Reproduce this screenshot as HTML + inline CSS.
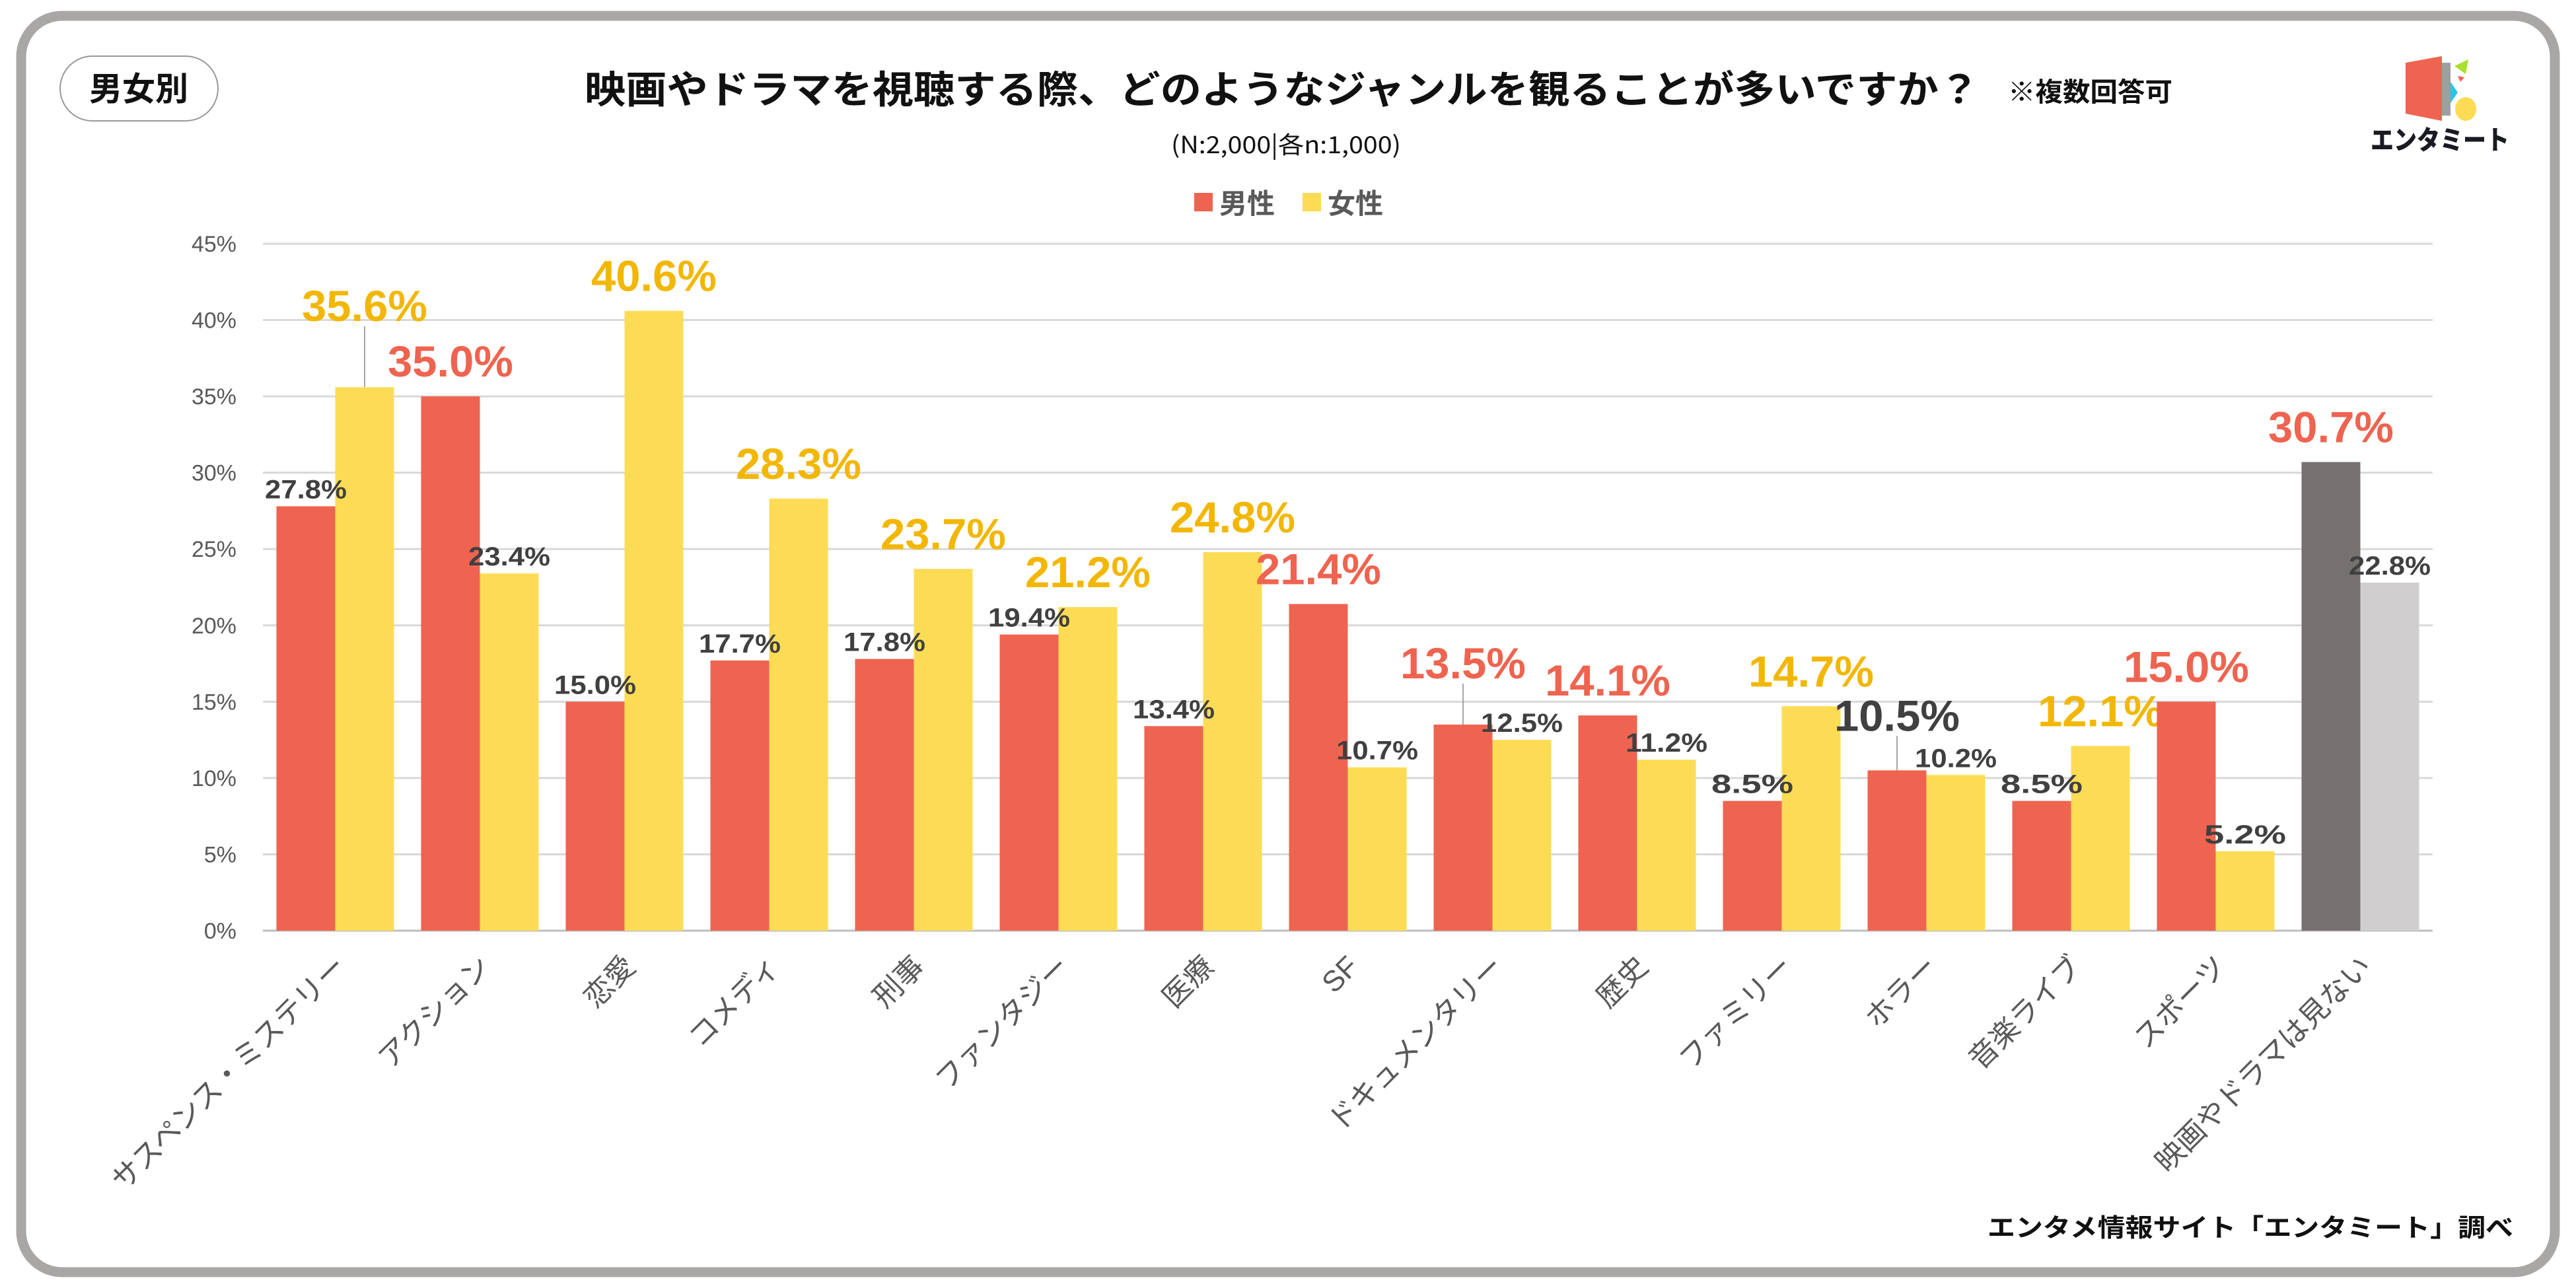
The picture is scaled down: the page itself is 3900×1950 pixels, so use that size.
<!DOCTYPE html>
<html><head><meta charset="utf-8"><style>
html,body{margin:0;padding:0;background:#fff;}
svg{display:block;}
text{font-family:"Liberation Sans","Noto Sans CJK JP",sans-serif;}
</style></head><body>
<svg id="chart" width="3900" height="1950" viewBox="0 0 3900 1950" xmlns="http://www.w3.org/2000/svg">
<rect x="32" y="24" width="3836" height="1902" rx="62" fill="#fff" stroke="#A9A6A6" stroke-width="15"/>
<rect x="91" y="85" width="239" height="98" rx="49" fill="#fff" stroke="#999" stroke-width="2"/>
<text x="210" y="152" font-size="50" font-weight="bold" text-anchor="middle" fill="#111" style="font-family:'Noto Sans CJK JP',sans-serif">男女別</text>
<text x="885" y="156" font-size="58" font-weight="bold" fill="#111" textLength="2112" lengthAdjust="spacingAndGlyphs" style="font-family:'Noto Sans CJK JP',sans-serif">映画やドラマを視聴する際、どのようなジャンルを観ることが多いですか？</text>
<text x="3040" y="153" font-size="40" font-weight="bold" fill="#111" textLength="249" lengthAdjust="spacingAndGlyphs" style="font-family:'Noto Sans CJK JP',sans-serif">※複数回答可</text>
<text x="1947" y="232" font-size="36" fill="#111" text-anchor="middle" textLength="348" lengthAdjust="spacingAndGlyphs" style="font-family:'Noto Sans CJK JP',sans-serif">(N:2,000|各n:1,000)</text>
<g>
<rect x="1808" y="292" width="28" height="28" fill="#EE6450"/>
<text x="1846" y="323" font-size="42" font-weight="bold" fill="#595959" style="font-family:'Noto Sans CJK JP',sans-serif">男性</text>
<rect x="1972" y="292" width="28" height="28" fill="#FDDC55"/>
<text x="2010" y="323" font-size="42" font-weight="bold" fill="#595959" style="font-family:'Noto Sans CJK JP',sans-serif">女性</text>
</g>
<g>
<polygon points="3642,95 3697,85 3697,183 3642,172" fill="#EE6450"/>
<rect x="3697" y="95" width="13" height="80" fill="#9E9E9E"/>
<polygon points="3716,100 3737,90 3733,112" fill="#A8E02A"/>
<polygon points="3721,115 3731,117 3725,124" fill="#EE6450"/>
<polygon points="3710,124 3721,140 3710,156" fill="#29C4E8"/>
<ellipse cx="3733" cy="165" rx="16" ry="18" fill="#FDDC55"/>
<text x="3694" y="226" font-size="40" font-weight="900" fill="#1A1A24" text-anchor="middle" textLength="210" lengthAdjust="spacingAndGlyphs" style="font-family:'Noto Sans CJK JP',sans-serif">エンタミート</text>
</g>
<text x="3805" y="1872" font-size="38" font-weight="bold" fill="#111" text-anchor="end" textLength="796" lengthAdjust="spacingAndGlyphs" style="font-family:'Noto Sans CJK JP',sans-serif">エンタメ情報サイト「エンタミート」調べ</text>
<g id="plot"></g>
</svg>
<script>
const categories=["サスペンス・ミステリー","アクション","恋愛","コメディ","刑事","ファンタジー","医療","SF","ドキュメンタリー","歴史","ファミリー","ホラー","音楽ライブ","スポーツ","映画やドラマは見ない"];
const maleValues=[27.8,35.0,15.0,17.7,17.8,19.4,13.4,21.4,13.5,14.1,8.5,10.5,8.5,15.0,30.7];
const femaleValues=[35.6,23.4,40.6,28.3,23.7,21.2,24.8,10.7,12.5,11.2,14.7,10.2,12.1,5.2,22.8];
const maleBig=[false,true,false,false,false,false,false,true,true,true,false,true,false,true,true];
const femaleBig=[true,false,true,true,true,true,true,false,false,false,true,false,true,false,false];
const yTicks=[0,5,10,15,20,25,30,35,40,45];
const maleLeader=[0,0,0,0,0,0,0,0,40,0,0,30,0,0,0];
const femaleLeader=[70,0,0,0,0,0,0,0,0,0,0,0,0,0,0];

const NS="http://www.w3.org/2000/svg";
const plot=document.getElementById('plot');
const X0=398,X1=3683,Y0=1409,YTOP=369,VMAX=45;
const pitch=(X1-X0)/categories.length,barW=89,inner=(pitch-2*barW)/2;
function y(v){return Y0-(v/VMAX)*(Y0-YTOP);}
function gx(i){return X0+i*pitch+inner;}
function mk(tag,attrs){const e=document.createElementNS(NS,tag);for(const k in attrs)e.setAttribute(k,attrs[k]);plot.appendChild(e);return e;}

yTicks.forEach(t=>{
  const l=mk('line',{x1:X0,x2:X1,y1:y(t),y2:y(t),stroke:t===0?'#BFBFBF':'#D9D9D9','stroke-width':3});
  
  
  const tx=mk('text',{x:358,y:y(t)+12,'font-size':34,fill:'#595959','text-anchor':'end'});
  tx.textContent=t+'%';
  
  
});

function label(cx,top,v,big,color,lift,i,s){
  const off=big?22:12;
  if(lift>0){
    const ln=mk('line',{x1:cx,x2:cx,y1:top,y2:top-lift-off,stroke:'#A6A6A6','stroke-width':2});
    
    
  }
  const t=mk('text',{x:cx,y:top-off-lift-(big?8:0),'font-size':big?66:40,'font-weight':'bold',fill:color,'text-anchor':'middle',textLength:big?190:124,lengthAdjust:'spacingAndGlyphs'});
  t.textContent=v.toFixed(1)+'%';
  
  
}

categories.forEach((c,i)=>{
  const last=i===categories.length-1;
  const mx=gx(i),fx=gx(i)+barW;
  const mb=mk('rect',{x:mx,y:y(maleValues[i]),width:barW,height:Y0-y(maleValues[i]),fill:last?'#767171':'#EE6450'});
  
  
  const fb=mk('rect',{x:fx,y:y(femaleValues[i]),width:barW,height:Y0-y(femaleValues[i]),fill:last?'#D0CECE':'#FDDC55'});
  
  
  const mcol=maleBig[i]?(i===11?'#404040':'#EE6450'):'#404040';
  label(mx+barW/2,y(maleValues[i]),maleValues[i],maleBig[i],mcol,maleLeader[i],i,'male');
  label(fx+barW/2,y(femaleValues[i]),femaleValues[i],femaleBig[i],femaleBig[i]?'#F2B705':'#404040',femaleLeader[i],i,'female');
  const cx=gx(i)+barW;
  const g=document.createElementNS(NS,'g');
  g.setAttribute('transform','translate('+(cx+8)+',1455) rotate(-45)');
  plot.appendChild(g);
  const t=document.createElementNS(NS,'text');
  t.setAttribute('text-anchor','end');
  t.setAttribute('font-size','44');
  t.setAttribute('fill','#595959');
  t.setAttribute('dy','0.35em');
  t.textContent=c;
  
  
  g.appendChild(t);
});
</script>
</body></html>
